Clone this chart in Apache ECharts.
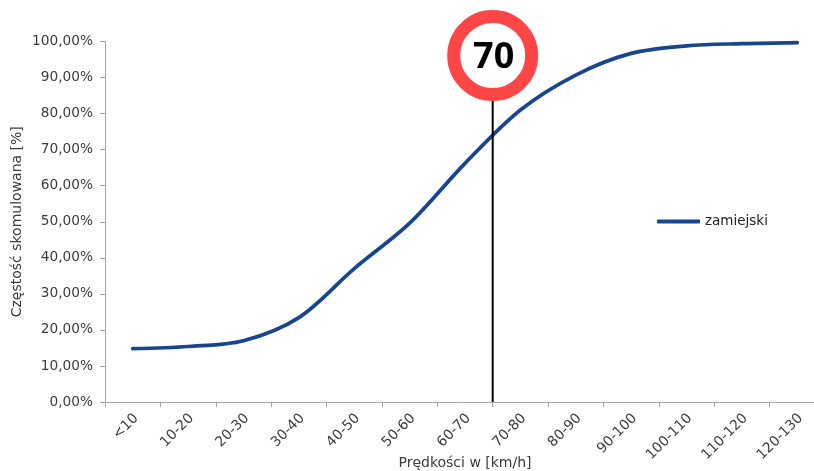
<!DOCTYPE html>
<html>
<head>
<meta charset="utf-8">
<style>html,body{margin:0;padding:0;background:#fff;overflow:hidden}#c{width:814px;height:471px}</style>
<script src="https://cdn.jsdelivr.net/npm/echarts@6/dist/echarts.min.js"></script>
</head>
<body>
<div id="c"></div>
<script>
const categories = ['<10','10-20','20-30','30-40','40-50','50-60','60-70','70-80','80-90','90-100','100-110','110-120','120-130'];
const zamiejski = [14.8,15.4,17,23.4,37,49.6,66.2,81,90.7,96.7,98.8,99.4,99.7];
const speedLimit = '70';
const poleX = 7;      // boundary between the 60-70 and 70-80 classes
const poleTop = 84;
const signY = 96.1;

const font = 'DejaVu Sans';
const textColor = '#3c3c3c';
const axisColor = '#a6a6a6';
const chart = echarts.init(document.getElementById('c'), null, {renderer:'canvas'});
chart.setOption({
  animation:false,
  backgroundColor:'#fff',
  grid:{left:105,top:41.5,width:720,height:360.5,containLabel:false,outerBoundsMode:'none'},
  legend:{
    data:['zamiejski'],icon:'roundRect',left:652,top:209.5,itemWidth:43,itemHeight:4,itemGap:1.5,
    textStyle:{fontFamily:font,fontSize:13.5,color:'#222'}
  },
  xAxis:[
    {type:'category',data:categories,boundaryGap:true,
     name:'Prędkości w [km/h]',nameLocation:'middle',nameGap:54,nameMoveOverlap:false,
     nameTextStyle:{fontFamily:font,fontSize:14,color:textColor},
     axisLine:{lineStyle:{color:axisColor,width:1}},
     axisTick:{show:true,alignWithLabel:false,length:5,lineStyle:{color:axisColor}},
     axisLabel:{rotate:45,interval:0,margin:10.5,verticalAlign:'top',lineHeight:10,
       fontFamily:font,fontSize:14,color:textColor},
     splitLine:{show:false}},
    {type:'value',min:0,max:13,show:false,splitLine:{show:false}}
  ],
  yAxis:{type:'value',min:0,max:100,interval:10,
     name:'Częstość skomulowana [%]',nameLocation:'middle',nameGap:81,nameMoveOverlap:false,
     nameTextStyle:{fontFamily:font,fontSize:14,color:textColor},
     axisLine:{show:true,lineStyle:{color:axisColor,width:1}},
     axisTick:{show:true,length:5,lineStyle:{color:axisColor}},
     axisLabel:{margin:12,fontFamily:font,fontSize:13.7,color:textColor,
       formatter:v=>v.toFixed(2).replace('.',',')+'%'},
     splitLine:{show:false}},
  series:[
    {name:'zamiejski',type:'line',data:zamiejski,smooth:0.33,symbol:'none',
     lineStyle:{color:'#17468f',width:3.7,cap:'round'},itemStyle:{color:'#17468f'},z:3},
    {name:'pole',type:'line',xAxisIndex:1,data:[[poleX,0],[poleX,poleTop]],symbol:'none',
     lineStyle:{color:'#000',width:2},z:4},
    {name:'sign',type:'scatter',xAxisIndex:1,data:[[poleX,signY]],symbol:'circle',symbolSize:78,
     clip:false,silent:true,
     itemStyle:{color:'#fff',borderColor:'#ff4646',borderWidth:13,opacity:1},
     label:{show:true,position:'inside',offset:[1,2],formatter:speedLimit,fontFamily:'Open Sans',
       fontWeight:'bold',fontSize:36,color:'#000'},z:5}
  ]
});
</script>
</body>
</html>
